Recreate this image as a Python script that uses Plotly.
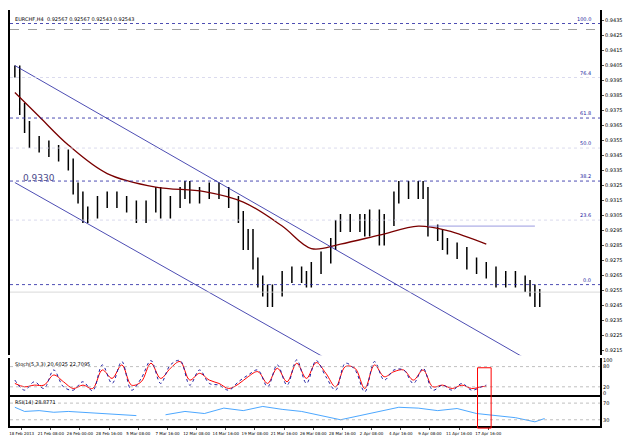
import plotly.graph_objects as go

# bar positions and closes (price)
bar_x = [5, 10, 15, 20, 30, 40, 50, 60, 65, 70, 75, 80, 90, 100, 110, 120, 130, 140, 150, 155,
         165, 175, 180, 185, 195, 205, 215, 225, 235, 240, 245, 250, 255, 260, 265, 270, 280, 290,
         300, 305, 310, 320, 330, 335, 340, 350, 360, 365, 370, 380, 385, 395, 400, 410, 420, 425,
         430, 440, 445, 450, 460, 470, 480, 490, 500, 510, 520, 530, 535, 540, 545]
closes = [0.9401, 0.9376, 0.9364, 0.9354, 0.9351, 0.9348, 0.9345, 0.9339, 0.9323, 0.9317,
          0.9304, 0.9307, 0.9314, 0.9317, 0.9314, 0.9311, 0.9304, 0.9311, 0.9320, 0.9307,
          0.9314, 0.9320, 0.9324, 0.9317, 0.9320, 0.9323, 0.9320, 0.9314, 0.9304, 0.9286,
          0.9292, 0.9273, 0.9261, 0.9255, 0.9248, 0.9255, 0.9264, 0.9267, 0.9264, 0.9261,
          0.9270, 0.9277, 0.9286, 0.9298, 0.9302, 0.9298, 0.9302, 0.9295, 0.9305, 0.9289,
          0.9302, 0.9317, 0.9324, 0.9320, 0.9324, 0.9320, 0.9295, 0.9292, 0.9286, 0.9283,
          0.9280, 0.9273, 0.9270, 0.9267, 0.9261, 0.9264, 0.9261, 0.9258, 0.9255, 0.9248, 0.9252]
ma_x = [5, 30, 60, 100, 150, 200, 240, 280, 310, 340, 380, 420, 450, 490]
ma_y = [0.9387, 0.9371, 0.9352, 0.9333, 0.9324, 0.9321, 0.9314, 0.9298, 0.9283, 0.9286,
        0.9292, 0.9298, 0.9295, 0.9286]

fib_levels = [0.9433, 0.9397, 0.9370, 0.9350, 0.9328, 0.9302, 0.9259]
fib_names = ["100.0", "76.4", "61.8", "50.0", "38.2", "23.6", "0.0"]
fib_dark = [True, False, True, False, True, False, True]
last_price = 0.9254

stoch_x = [5, 15, 25, 35, 45, 55, 65, 75, 85, 95, 105, 115, 125, 135, 145, 155, 165, 175,
           185, 195, 205, 215, 225, 235, 245, 255, 265, 275, 285, 295, 305, 315, 325, 335,
           345, 355, 365, 375, 385, 395, 405, 415, 425, 435, 445, 455, 465, 475, 485, 490]
stoch_main = [40, 10, 35, 15, 70, 20, 10, 35, 8, 85, 30, 95, 10, 45, 98, 30, 85, 98, 25, 70,
              30, 25, 10, 35, 55, 70, 20, 85, 25, 100, 30, 98, 50, 10, 90, 70, 5, 95, 40, 70,
              70, 30, 75, 10, 25, 10, 30, 10, 20, 25]
stoch_sig = [30, 20, 25, 25, 55, 35, 15, 25, 15, 70, 45, 85, 25, 35, 90, 45, 75, 95, 40, 60,
             40, 30, 15, 28, 50, 65, 30, 75, 35, 90, 45, 92, 60, 20, 80, 75, 15, 85, 50, 65,
             70, 40, 70, 20, 25, 15, 25, 15, 20, 22]
rsi_x = [5, 15, 30, 45, 60, 80, 100, 130, 150, 160, 180, 200, 220, 240, 260, 280, 300, 320,
         340, 360, 380, 400, 420, 440, 460, 480, 500, 520, 540, 550]
rsi_y = [60, 50, 52, 48, 50, 47, 45, 40, None, 42, 50, 45, 58, 52, 62, 55, 50, 40, 30, 40,
         50, 60, 58, 52, 57, 45, 40, 35, 25, 33]
tick_pos = [12, 42, 72, 102, 132, 162, 192, 222, 252, 282, 312, 342, 372, 402, 432, 462, 492]
tick_text = ["18 Feb 2013", "21 Feb 08:00", "26 Feb 00:00", "28 Feb 16:00", "5 Mar 08:00",
             "7 Mar 16:00", "12 Mar 08:00", "14 Mar 16:00", "19 Mar 08:00", "21 Mar 16:00",
             "26 Mar 08:00", "28 Mar 16:00", "2 Apr 08:00", "4 Apr 16:00", "9 Apr 08:00",
             "11 Apr 16:00", "17 Apr 16:00"]

opens = [closes[0]] + closes[:-1]
highs = [max(o, c) + 0.0004 for o, c in zip(opens, closes)]
lows = [min(o, c) - 0.0004 for o, c in zip(opens, closes)]

fig = go.Figure()
fig.add_trace(go.Ohlc(x=bar_x, open=opens, high=highs, low=lows, close=closes, tickwidth=0.1,
                      increasing_line_color="black", decreasing_line_color="black",
                      line_width=1.5, showlegend=False))
fig.add_trace(go.Scatter(x=ma_x, y=ma_y, mode="lines", line=dict(color="#7a0000", width=1.3),
                         line_shape="spline", showlegend=False))
# channel lines
fig.add_trace(go.Scatter(x=[5, 535], y=[0.9405, 0.9208], mode="lines",
                         line=dict(color="#2020a0", width=0.8), showlegend=False))
fig.add_trace(go.Scatter(x=[5, 330], y=[0.9327, 0.9208], mode="lines",
                         line=dict(color="#2020a0", width=0.8), showlegend=False))
fig.add_trace(go.Scatter(x=[430, 540], y=[0.9298, 0.9298], mode="lines",
                         line=dict(color="#8080d8", width=0.8), showlegend=False))

for lv, nm, dk in zip(fib_levels, fib_names, fib_dark):
    fig.add_hline(y=lv, line=dict(color="#2020a0" if dk else "#d0d0e8", width=0.8, dash="dot"))
    fig.add_annotation(x=600, y=lv, text=nm, showarrow=False, xanchor="right", yanchor="bottom",
                       font=dict(size=5, color="#2020a0"))
fig.add_hline(y=0.9429, line=dict(color="#a0a0a0", width=1.2, dash="dash"))
fig.add_hline(y=last_price, line=dict(color="#d0d0d0", width=0.8))
fig.add_annotation(x=30, y=0.9330, text="0.9330", showarrow=False, xanchor="center",
                   font=dict(size=9, color="#4a4a8a"))
fig.add_annotation(xref="paper", yref="paper", x=0.005, y=0.99, text="EURCHF,H4  0.92567 0.92567 0.92543 0.92543",
                   showarrow=False, xanchor="left", yanchor="top", font=dict(size=5, color="black"))

fig.add_trace(go.Scatter(x=stoch_x, y=stoch_sig, mode="lines", line=dict(color="red", width=1),
                         line_shape="spline", yaxis="y2", showlegend=False))
fig.add_trace(go.Scatter(x=stoch_x, y=stoch_main, mode="lines", line=dict(color="#2020a0", width=1, dash="dot"),
                         line_shape="spline", yaxis="y2", showlegend=False))
fig.add_trace(go.Scatter(x=rsi_x, y=rsi_y, mode="lines", line=dict(color="#1e90ff", width=0.8),
                         yaxis="y3", showlegend=False))
for v in [80, 20]:
    fig.add_hline(y=v, yref="y2", line=dict(color="#b0b0b0", width=0.8, dash="dot"))
for v in [70, 30]:
    fig.add_hline(y=v, yref="y3", line=dict(color="#b0b0b0", width=0.8, dash="dot"))
fig.add_annotation(xref="paper", yref="paper", x=0.005, y=0.162, text="Stoch(5,3,3) 20.6025 22.7095",
                   showarrow=False, xanchor="left", yanchor="top", font=dict(size=5))
fig.add_annotation(xref="paper", yref="paper", x=0.005, y=0.07, text="RSI(14) 28.8771",
                   showarrow=False, xanchor="left", yanchor="top", font=dict(size=5))
fig.add_shape(type="rect", x0=481, x1=495, y0=-0.005, y1=0.14, xref="x", yref="paper",
              line=dict(color="red", width=1))

ax = dict(showgrid=False, zeroline=False, showline=True, linecolor="black", linewidth=2, mirror=True)
fig.update_layout(
    width=622, height=428, margin=dict(l=0, r=30, t=0, b=10),
    paper_bgcolor="white", plot_bgcolor="white",
    font=dict(family="DejaVu Sans", size=5, color="black"),
    xaxis=dict(range=[0, 607], rangeslider=dict(visible=False), tickmode="array", tickvals=tick_pos,
               ticktext=tick_text, tickangle=0, anchor="y3", side="bottom", ticks="outside", ticklen=2,
               tickfont=dict(size=4), automargin=False, **ax),
    yaxis=dict(domain=[0.17, 1], range=[0.92119, 0.9442], side="right", dtick=0.001, tick0=0.9215,
               tickformat=".4f", ticks="outside", ticklen=2, tickfont=dict(size=5), automargin=False, **ax),
    yaxis2=dict(domain=[0.074, 0.163], range=[-5, 105], side="right", tickvals=[0, 20, 80, 100], **ax),
    yaxis3=dict(domain=[0, 0.07], range=[15, 85], side="right", tickvals=[30, 70], **ax),
)
fig.write_html("out.html")
